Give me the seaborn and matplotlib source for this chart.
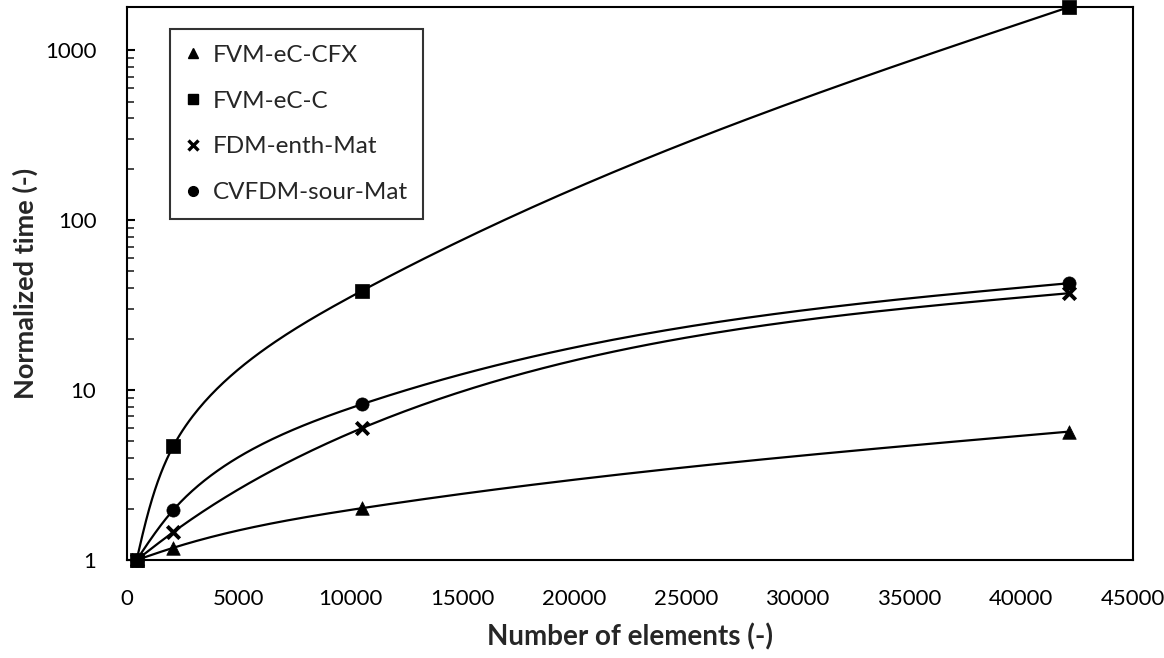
import numpy as np
import pandas as pd
import matplotlib
matplotlib.use("Agg")
import matplotlib.pyplot as plt
import seaborn as sns
from matplotlib.lines import Line2D

# ---- data ----
elements = [430, 2070, 10520, 42150]
series_names = ["FVM-eC-CFX", "FVM-eC-C", "FDM-enth-Mat", "CVFDM-sour-Mat"]
t_cfx = [1.0, 1.18, 2.02, 5.7]
t_c = [1.0, 4.68, 38.5, 1800]
t_fdm = [1.0, 1.46, 5.98, 37.2]
t_cvfdm = [1.0, 1.97, 8.27, 42.6]
y_ticks = [1, 10, 100, 1000]
x_ticks = [0, 5000, 10000, 15000, 20000, 25000, 30000, 35000, 40000, 45000]

values = {"FVM-eC-CFX": t_cfx, "FVM-eC-C": t_c,
          "FDM-enth-Mat": t_fdm, "CVFDM-sour-Mat": t_cvfdm}
markers = {"FVM-eC-CFX": "^", "FVM-eC-C": "s",
           "FDM-enth-Mat": "x", "CVFDM-sour-Mat": "o"}

XMAX, YMIN, YMAX = 45000, 1, 1800
AX_W, AX_H = 1006, 553   # axes size in pixels

sns.set_theme(style="white")
plt.rcParams["font.family"] = ["Lato", "DejaVu Sans"]

fig = plt.figure(figsize=(11.64, 6.58), dpi=100)
ax = fig.add_axes([127 / 1164, 98 / 658, AX_W / 1164, AX_H / 658])


def natural_1d(t, v):
    n = len(t)
    h = np.diff(t)
    A = np.zeros((n, n))
    r = np.zeros(n)
    A[0, 0] = A[-1, -1] = 1.0
    for i in range(1, n - 1):
        A[i, i - 1] = h[i - 1]
        A[i, i] = 2 * (h[i - 1] + h[i])
        A[i, i + 1] = h[i]
        r[i] = 3 * ((v[i + 1] - v[i]) / h[i] - (v[i] - v[i - 1]) / h[i - 1])
    c = np.linalg.solve(A, r)
    b = (np.diff(v) / h) - h * (2 * c[:-1] + c[1:]) / 3
    d = (c[1:] - c[:-1]) / (3 * h)
    return b, c[:-1], d


def smooth(xs, ys, n=80):
    """Smoothed line: chord-length natural cubic spline in screen space."""
    px = np.asarray(xs, float) / XMAX * AX_W
    lmin, lmax = np.log10(YMIN), np.log10(YMAX)
    py = (np.log10(np.asarray(ys, float)) - lmin) / (lmax - lmin) * AX_H
    t = np.concatenate([[0], np.cumsum(np.hypot(np.diff(px), np.diff(py)))])
    bx, cx, dx = natural_1d(t, px)
    by, cy, dy = natural_1d(t, py)
    ox, oy = [], []
    for i in range(len(t) - 1):
        s = np.linspace(0, t[i + 1] - t[i], n)
        ox.append(px[i] + bx[i] * s + cx[i] * s ** 2 + dx[i] * s ** 3)
        oy.append(py[i] + by[i] * s + cy[i] * s ** 2 + dy[i] * s ** 3)
    ox = np.concatenate(ox)
    oy = np.concatenate(oy)
    return ox / AX_W * XMAX, 10 ** (oy / AX_H * (lmax - lmin) + lmin)


for name in series_names:
    sx, sy = smooth(elements, values[name])
    df_line = pd.DataFrame({"x": sx, "y": sy})
    sns.lineplot(data=df_line, x="x", y="y", ax=ax, color="black", lw=1.6,
                 sort=False, estimator=None, zorder=2)

for name in series_names:
    df_pts = pd.DataFrame({"x": elements, "y": values[name]})
    mk = markers[name]
    if mk == "x":
        sns.scatterplot(data=df_pts, x="x", y="y", ax=ax, marker="x", s=80,
                        color="black", linewidth=2.8, zorder=3, clip_on=False)
    else:
        sns.scatterplot(data=df_pts, x="x", y="y", ax=ax, marker=mk,
                        s={"^": 95, "s": 90, "o": 90}[mk],
                        color="black", edgecolor="black", linewidth=0.5,
                        zorder=3, clip_on=False)

ax.set_yscale("log")
ax.set_xlim(0, XMAX)
ax.set_ylim(YMIN, YMAX)
ax.set_xticks(x_ticks)
ax.set_xticklabels([str(v) for v in x_ticks])
ax.set_yticks(y_ticks)
ax.set_yticklabels([str(v) for v in y_ticks])
ax.yaxis.set_minor_locator(matplotlib.ticker.LogLocator(base=10, subs=np.arange(2, 10)))
ax.yaxis.set_minor_formatter(matplotlib.ticker.NullFormatter())

ax.tick_params(axis="x", which="both", length=0, pad=21, labelsize=16, colors="black")
ax.tick_params(axis="y", which="major", direction="in", length=6, width=1.5,
               pad=22, labelsize=16, colors="black", left=True)
ax.tick_params(axis="y", which="minor", direction="in", length=5, width=1.2, left=True)

for sp in ax.spines.values():
    sp.set_color("black")
    sp.set_linewidth(1.5)

ax.set_xlabel("Number of elements (-)", fontsize=20, fontweight="bold", labelpad=10)
ax.set_ylabel("Normalized time (-)", fontsize=19.5, fontweight="bold", labelpad=5)

handles = []
for name in series_names:
    mk = markers[name]
    if mk == "x":
        h = Line2D([], [], ls="none", marker="x", color="black", ms=7, mew=2.4)
    else:
        h = Line2D([], [], ls="none", marker=mk, color="black", ms=7)
    handles.append(h)
leg = ax.legend(handles, series_names, loc="upper left",
                bbox_to_anchor=(43 / AX_W, (AX_H - 22) / AX_H),
                fontsize=17.5, frameon=True, fancybox=False, edgecolor="black",
                handlelength=0.6, handletextpad=0.5, labelspacing=1.02,
                borderpad=0.65, borderaxespad=0)
leg.get_frame().set_linewidth(1.5)

fig.savefig("out.png", dpi=100)
